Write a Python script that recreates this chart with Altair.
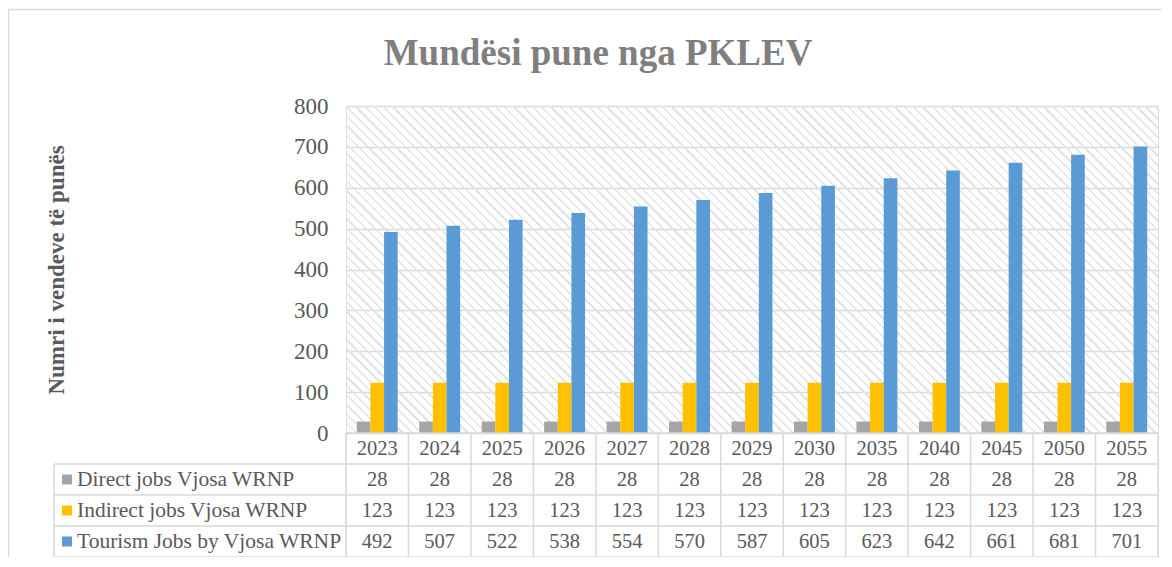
import altair as alt
import pandas as pd

years = ["2023", "2024", "2025", "2026", "2027", "2028", "2029", "2030",
         "2035", "2040", "2045", "2050", "2055"]
series = ["Direct jobs Vjosa WRNP", "Indirect jobs Vjosa WRNP", "Tourism Jobs by Vjosa WRNP"]
direct = [28, 28, 28, 28, 28, 28, 28, 28, 28, 28, 28, 28, 28]
indirect = [123, 123, 123, 123, 123, 123, 123, 123, 123, 123, 123, 123, 123]
tourism = [492, 507, 522, 538, 554, 570, 587, 605, 623, 642, 661, 681, 701]
colors = ["#a5a5a5", "#ffc000", "#5b9bd5"]
y_ticks = [0, 100, 200, 300, 400, 500, 600, 700, 800]

W, H_PLOT, ROW = 812, 327, 31
H = H_PLOT + 4 * ROW
LABEL_W = 292
FONT = "Liberation Serif"
GRID = "#d9d9d9"
TXT = "#595959"

rows_long = []
for s, vals in zip(series, [direct, indirect, tourism]):
    for yr, v in zip(years, vals):
        rows_long.append({"year": yr, "series": s, "value": v})
df = pd.DataFrame(rows_long)

HDR = "_year"
row_domain = [HDR] + series
tab = [{"year": yr, "row": HDR, "label": yr} for yr in years]
tab += [{"year": r["year"], "row": r["series"], "label": str(r["value"])} for r in rows_long]
df_tab = pd.DataFrame(tab)
df_lab = pd.DataFrame({"row": series, "series": series})
df_years = pd.DataFrame({"year": years})
df_one = pd.DataFrame({"a": [0]})

# diagonal hatch as a striped gradient (transparent gaps)
period, sw = 8.0, 2.0
span = W + H_PLOT
stops = []
c = 0.0
clear = "rgba(255,255,255,0)"
hatch = "#e4e4e4"
while c < span:
    t0 = c / span
    t1 = min((c + sw) / span, 1.0)
    t2 = min((c + period) / span, 1.0)
    stops += [{"offset": t0, "color": hatch}, {"offset": t1, "color": hatch},
              {"offset": t1, "color": clear}, {"offset": t2, "color": clear}]
    c += period
k = 1 + H_PLOT / W
grad = {"gradient": "linear", "x1": 0, "y1": 1, "x2": k, "y2": 1 - k * H_PLOT / W,
        "stops": stops}

xscale = alt.Scale(paddingInner=0, paddingOuter=0)
X = alt.X("year:N", sort=years, scale=xscale, axis=None)

bg = alt.Chart(df_one).mark_rect(fill=grad, stroke=None).encode(
    x=alt.value(0), x2=alt.value(W), y=alt.value(0), y2=alt.value(H_PLOT))

bars = alt.Chart(df).mark_bar().encode(
    x=X,
    xOffset=alt.XOffset("series:N", sort=series,
                        scale=alt.Scale(paddingOuter=0.79, paddingInner=0)),
    y=alt.Y("value:Q", scale=alt.Scale(domain=[0, 800], range=[H_PLOT, 0]),
            axis=alt.Axis(values=y_ticks, grid=True, gridColor=GRID, gridWidth=1.5,
                          domain=False, ticks=False, labelFont=FONT, labelFontSize=23,
                          labelColor=TXT, labelPadding=18,
                          title="Numri i vendeve të punës", titleFont=FONT,
                          titleFontSize=23, titleFontWeight="bold", titleColor=TXT,
                          titleAngle=270, titleX=-283, titleY=H_PLOT / 2,
                          titleBaseline="alphabetic", titleAlign="center")),
    color=alt.Color("series:N", sort=series,
                    scale=alt.Scale(domain=series, range=colors), legend=None),
)

top = alt.layer(bg, bars)

Yrow = alt.Y("row:N", sort=row_domain,
             scale=alt.Scale(domain=row_domain, range=[H_PLOT, H], paddingInner=0,
                             paddingOuter=0), axis=None)
Yrow0 = alt.Y("row:N", sort=row_domain, bandPosition=0,
              scale=alt.Scale(domain=row_domain, range=[H_PLOT, H], paddingInner=0,
                              paddingOuter=0), axis=None)

tab_text = alt.Chart(df_tab).mark_text(font=FONT, fontSize=20.5, color=TXT).encode(
    x=X, y=Yrow, text="label:N")

lab_text = alt.Chart(df_lab).mark_text(font=FONT, fontSize=21.5, color=TXT,
                                       align="left").encode(
    x=alt.value(-LABEL_W + 23), y=Yrow, text="row:N")

squares = alt.Chart(df_lab).mark_square(size=100, opacity=1).encode(
    x=alt.value(-LABEL_W + 13), y=Yrow,
    color=alt.Color("series:N", sort=series,
                    scale=alt.Scale(domain=series, range=colors), legend=None))

hrules = alt.Chart(df_lab).mark_rule(color=GRID, strokeWidth=1.5).encode(
    y=Yrow0, x=alt.value(-LABEL_W), x2=alt.value(W))
hdr_rule = alt.Chart(df_one).mark_rule(color=GRID, strokeWidth=1.5).encode(
    y=alt.value(H_PLOT), x=alt.value(0), x2=alt.value(W))
bottom_rule = alt.Chart(df_one).mark_rule(color=GRID, strokeWidth=1.5).encode(
    y=alt.value(H), x=alt.value(-LABEL_W), x2=alt.value(W))
vrules = alt.Chart(df_years).mark_rule(color=GRID, strokeWidth=1.5).encode(
    x=alt.X("year:N", sort=years, scale=xscale, axis=None, bandPosition=0),
    y=alt.value(H_PLOT), y2=alt.value(H))
right_rule = alt.Chart(df_one).mark_rule(color=GRID, strokeWidth=1.5).encode(
    x=alt.value(W), y=alt.value(H_PLOT), y2=alt.value(H))
left_rule = alt.Chart(df_one).mark_rule(color=GRID, strokeWidth=1.5).encode(
    x=alt.value(-LABEL_W), y=alt.value(H_PLOT + ROW), y2=alt.value(H))

frame_l = alt.Chart(df_one).mark_rule(color=GRID, strokeWidth=1.5).encode(
    x=alt.value(-337.5), y=alt.value(-97), y2=alt.value(H + 20))
frame_t = alt.Chart(df_one).mark_rule(color=GRID, strokeWidth=1.5).encode(
    y=alt.value(-96.5), x=alt.value(-338), x2=alt.value(W + 20))

table = alt.layer(hrules, hdr_rule, bottom_rule, vrules, right_rule, left_rule,
                  tab_text, lab_text, squares)

chart = alt.layer(frame_l, frame_t, top, table).resolve_scale(y="independent").properties(
    width=W, height=H,
    autosize=alt.AutoSizeParams(type="none"),
    padding={"left": 338, "top": 98, "right": 4, "bottom": 0},
    title=alt.TitleParams(text="Mundësi pune nga PKLEV", font=FONT, fontSize=37,
                          fontWeight="bold", color="#7f7f7f", anchor="middle",
                          frame="group", dx=-154, dy=38, offset=-56,
                          baseline="alphabetic"),
).configure_view(stroke=None).configure(background="white")

chart.save("out.html", embed_options={"renderer": "svg", "actions": False})
